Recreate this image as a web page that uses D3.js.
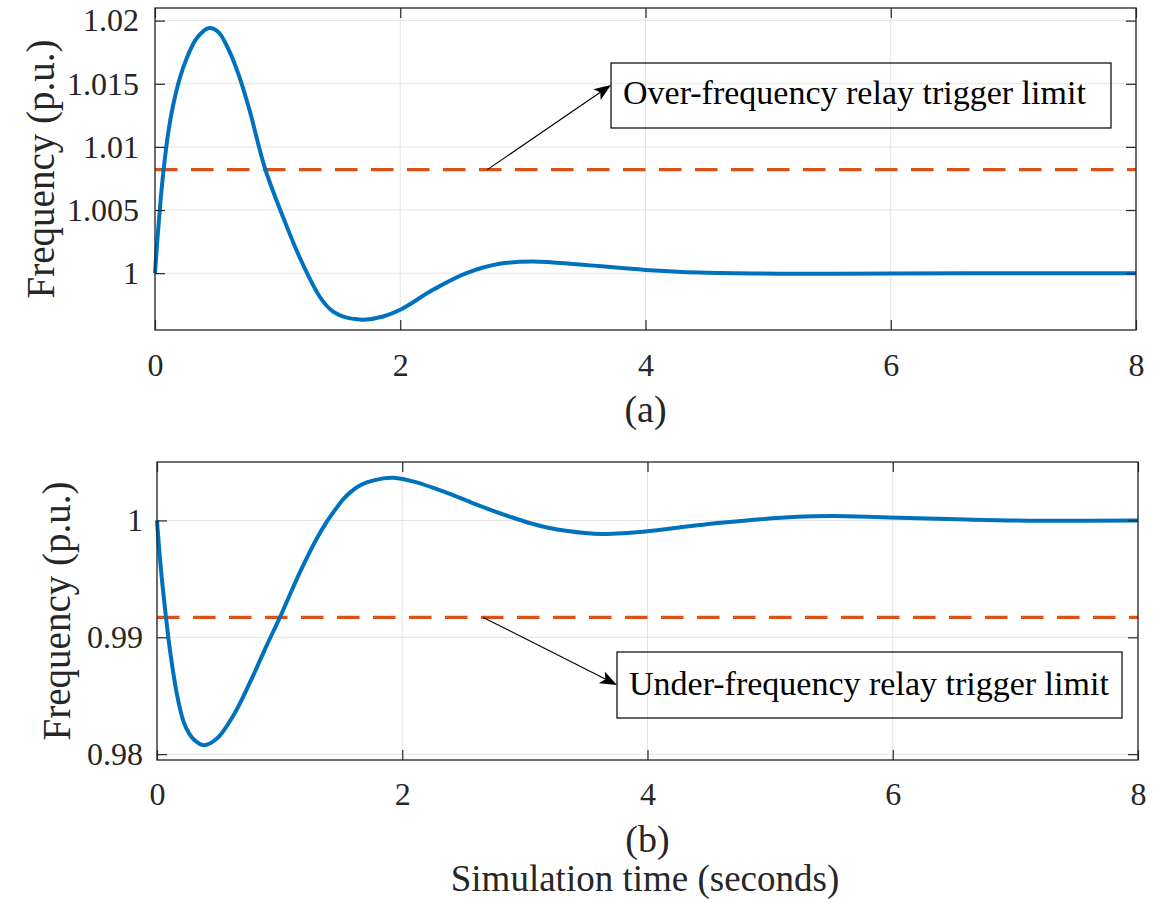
<!DOCTYPE html>
<html>
<head>
<meta charset="utf-8">
<script src="https://cdn.jsdelivr.net/npm/d3@7"></script>
<style>
  html, body { margin: 0; padding: 0; background: #ffffff; }
  svg { display: block; }
  text { font-family: "Liberation Serif", "Times New Roman", serif; }
</style>
</head>
<body>
<svg id="fig" width="1165" height="902"></svg>
<script>
// ---- data ----
const timeTicks = [0, 2, 4, 6, 8];
const timeTickLabels = ["0", "2", "4", "6", "8"];

// (a) over-frequency event
const timeA = [0, 0.022, 0.044, 0.068, 0.109, 0.15, 0.204, 0.258, 0.34, 0.435, 0.516, 0.61, 0.693, 0.774, 0.897, 1.046, 1.182, 1.318, 1.36, 1.40, 1.45, 1.50, 1.55, 1.62, 1.70, 1.86, 2.00, 2.27, 2.54, 2.81, 3.08, 3.49, 4.00, 4.44, 5.26, 6.00, 7.00, 8.00];
const freqA = [1.0000, 1.0030, 1.0056, 1.0080, 1.0112, 1.0134, 1.0155, 1.0170, 1.0186, 1.0194, 1.0191, 1.0175, 1.0154, 1.0128, 1.0083, 1.0044, 1.0012, 0.99854, 0.9979, 0.99742, 0.99697, 0.9967, 0.99652, 0.99638, 0.99631, 0.99657, 0.9971, 0.9987, 1.0000, 1.00074, 1.00092, 1.00066, 1.00026, 1.00005, 0.99995, 0.99998, 1.0000, 1.0000];
const limitA = 1.0082;
const yTicksA = [1, 1.005, 1.01, 1.015, 1.02];
const yTickLabelsA = ["1", "1.005", "1.01", "1.015", "1.02"];
const yDomainA = [0.9955, 1.021];

// (b) under-frequency event
const timeB = [0, 0.027, 0.068, 0.109, 0.163, 0.217, 0.26, 0.30, 0.38, 0.489, 0.624, 0.76, 0.896, 1.004, 1.167, 1.303, 1.384, 1.466, 1.52, 1.574, 1.64, 1.71, 1.845, 1.927, 2.102, 2.414, 2.569, 2.725, 2.881, 3.037, 3.19, 3.349, 3.49, 3.63, 3.80, 4.00, 4.60, 5.22, 5.53, 6.05, 6.60, 7.20, 8.00];
const freqB = [1.0000, 0.9964, 0.9922, 0.98865, 0.9851, 0.98276, 0.9818, 0.98126, 0.98077, 0.98134, 0.98333, 0.98618, 0.98933, 0.99175, 0.9956, 0.99846, 0.99988, 1.0011, 1.00182, 1.00238, 1.0029, 1.00325, 1.0036, 1.00365, 1.0033, 1.00217, 1.00151, 1.00089, 1.00031, 0.99978, 0.99938, 0.99909, 0.99892, 0.99884, 0.9989, 0.99908, 0.9998, 1.00031, 1.00037, 1.00022, 1.00008, 0.99998, 1.0000];
const limitB = 0.9917;
const yTicksB = [0.98, 0.99, 1];
const yTickLabelsB = ["0.98", "0.99", "1"];
const yDomainB = [0.9795, 1.005];

// ---- drawing ----
const svg = d3.select("#fig");
const axisColor = "#262626";
const gridColor = "#e3e3e3";
const lineBlue = "#0072BD";
const lineOrange = "#D95319";
const serif = '"Liberation Serif", "Times New Roman", serif';

function panel(opts) {
  const { left, right, top, bottom } = opts.box;
  const x = d3.scaleLinear().domain([0, 8]).range([left, right]);
  const y = d3.scaleLinear().domain(opts.yDomain).range([bottom, top]);
  const g = svg.append("g");

  // grid
  g.append("g").selectAll("line").data(timeTicks).join("line")
    .attr("x1", d => x(d)).attr("x2", d => x(d))
    .attr("y1", top).attr("y2", bottom)
    .attr("stroke", gridColor).attr("stroke-width", 1);
  g.append("g").selectAll("line").data(opts.yTicks).join("line")
    .attr("x1", left).attr("x2", right)
    .attr("y1", d => y(d)).attr("y2", d => y(d))
    .attr("stroke", gridColor).attr("stroke-width", 1);

  // threshold (dashed)
  g.append("line")
    .attr("x1", left).attr("x2", right)
    .attr("y1", y(opts.limit)).attr("y2", y(opts.limit))
    .attr("stroke", lineOrange).attr("stroke-width", 3.2)
    .attr("stroke-dasharray", "22.5,13.5");

  // frequency response
  const pts = opts.t.map((t, i) => [t, opts.f[i]]);
  g.append("path")
    .datum(pts)
    .attr("fill", "none")
    .attr("stroke", lineBlue)
    .attr("stroke-width", 4)
    .attr("stroke-linejoin", "round")
    .attr("d", d3.line().x(d => x(d[0])).y(d => y(d[1])).curve(d3.curveCatmullRom.alpha(0.5)));

  // axes with inward ticks, mirrored on top/right
  const yLabels = new Map(opts.yTicks.map((v, i) => [v, opts.yTickLabels[i]]));
  const xLabels = new Map(timeTicks.map((v, i) => [v, timeTickLabels[i]]));

  const axL = g.append("g").attr("transform", `translate(${left},0)`)
    .call(d3.axisLeft(y).tickValues(opts.yTicks).tickSizeInner(-10).tickSizeOuter(0).tickPadding(opts.yPad).tickFormat(d => yLabels.get(d)));
  const axR = g.append("g").attr("transform", `translate(${right},0)`)
    .call(d3.axisRight(y).tickValues(opts.yTicks).tickSizeInner(-10).tickSizeOuter(0).tickFormat(""));
  const axB = g.append("g").attr("transform", `translate(0,${bottom})`)
    .call(d3.axisBottom(x).tickValues(timeTicks).tickSizeInner(-10).tickSizeOuter(0).tickPadding(opts.xPad).tickFormat(d => xLabels.get(d)));
  const axT = g.append("g").attr("transform", `translate(0,${top})`)
    .call(d3.axisTop(x).tickValues(timeTicks).tickSizeInner(-10).tickSizeOuter(0).tickFormat(""));

  [axL, axR, axB, axT].forEach(a => {
    a.attr("font-family", serif);
    a.select(".domain").remove();
    a.selectAll(".tick line").attr("stroke", axisColor).attr("stroke-width", 1.2);
    a.selectAll(".tick text")
      .attr("fill", axisColor)
      .style("font-family", serif)
      .style("font-size", "32px");
  });
  axB.selectAll(".tick text").attr("dy", "0.71em");

  // frame
  g.append("rect")
    .attr("x", left).attr("y", top)
    .attr("width", right - left).attr("height", bottom - top)
    .attr("fill", "none").attr("stroke", axisColor).attr("stroke-width", 1.3);

  // y label
  g.append("text")
    .attr("transform", `translate(${opts.yLabelX},${(top + bottom) / 2}) rotate(-90)`)
    .attr("text-anchor", "middle")
    .attr("fill", axisColor)
    .style("font-size", "39px")
    .text("Frequency (p.u.)");

  // panel caption
  g.append("text")
    .attr("x", (left + right) / 2).attr("y", opts.captionY)
    .attr("text-anchor", "middle")
    .attr("fill", axisColor)
    .style("font-size", "38px")
    .text(opts.caption);

  // annotation: arrow from the threshold to a text box
  const a = opts.note;
  const ax0 = x(a.fromT), ay0 = y(opts.limit);
  const ax1 = a.box[0], ay1 = a.tipY;
  const ang = Math.atan2(ay1 - ay0, ax1 - ax0);
  const headLen = 17, headW = 6.5;
  const bx = ax1 - headLen * Math.cos(ang), by = ay1 - headLen * Math.sin(ang);
  g.append("line")
    .attr("x1", ax0).attr("y1", ay0).attr("x2", bx + 5 * Math.cos(ang)).attr("y2", by + 5 * Math.sin(ang))
    .attr("stroke", "#000").attr("stroke-width", 1.1);
  const px = -Math.sin(ang), py = Math.cos(ang);
  const back = 4;
  g.append("path")
    .attr("d", `M${ax1},${ay1} L${bx + headW * px},${by + headW * py} L${bx + back * Math.cos(ang)},${by + back * Math.sin(ang)} L${bx - headW * px},${by - headW * py} Z`)
    .attr("fill", "#000");
  g.append("rect")
    .attr("x", a.box[0]).attr("y", a.box[1])
    .attr("width", a.box[2] - a.box[0]).attr("height", a.box[3] - a.box[1])
    .attr("fill", "none").attr("stroke", "#000").attr("stroke-width", 1.2);
  g.append("text")
    .attr("x", a.box[0] + 12).attr("y", a.textY)
    .attr("text-anchor", "start")
    .attr("fill", "#000")
    .style("font-size", "34px")
    .text(a.text);
}

panel({
  box: { left: 155, right: 1136, top: 8, bottom: 330 },
  t: timeA, f: freqA, limit: limitA,
  yDomain: yDomainA, yTicks: yTicksA, yTickLabels: yTickLabelsA,
  yPad: 16, xPad: 23, yLabelX: 54, caption: "(a)", captionY: 422,
  note: { fromT: 2.71, tipY: 85, box: [611, 63, 1111, 128], textY: 104, text: "Over-frequency relay trigger limit" }
});

panel({
  box: { left: 157, right: 1138, top: 462, bottom: 760 },
  t: timeB, f: freqB, limit: limitB,
  yDomain: yDomainB, yTicks: yTicksB, yTickLabels: yTickLabelsB,
  yPad: 14, xPad: 22, yLabelX: 70, caption: "(b)", captionY: 852,
  note: { fromT: 2.66, tipY: 685, box: [617, 652, 1122, 718], textY: 695, text: "Under-frequency relay trigger limit" }
});

// shared x label
svg.append("text")
  .attr("x", 645).attr("y", 891)
  .attr("text-anchor", "middle")
  .attr("fill", axisColor)
  .style("font-size", "37px")
  .text("Simulation time (seconds)");
</script>
</body>
</html>
